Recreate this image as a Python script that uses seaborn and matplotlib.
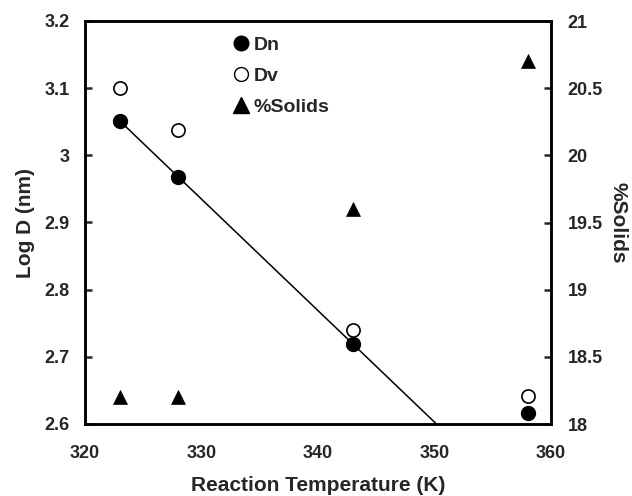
import numpy as np
import pandas as pd
import matplotlib
matplotlib.use("Agg")
import matplotlib.pyplot as plt
import seaborn as sns
from matplotlib.lines import Line2D

temperature = [323, 328, 343, 358]
log_dn = [3.051, 2.968, 2.719, 2.616]
log_dv = [3.100, 3.037, 2.740, 2.641]
solids = [18.2, 18.2, 19.6, 20.7]
fit_points = 3  # trend line fitted through first three Dn points

sns.set_style("white")
plt.rcParams['font.family'] = ['Liberation Sans', 'DejaVu Sans']
plt.rcParams['font.weight'] = 'bold'

df = pd.DataFrame({"T": temperature, "Dn": log_dn, "Dv": log_dv, "Solids": solids})

fig = plt.figure(figsize=(6.32, 4.96), dpi=100)
ax = fig.add_axes([85/632, 1-424/496, (551-85)/632, (424-21)/496])
ax2 = ax.twinx()

sns.scatterplot(data=df, x="T", y="Dn", ax=ax, color="black", edgecolor="black",
                s=100, marker="o", linewidth=1, zorder=3, legend=False)
sns.scatterplot(data=df, x="T", y="Dv", ax=ax, facecolor="white", edgecolor="black",
                s=90, marker="o", linewidth=1.2, zorder=3, legend=False)
sns.scatterplot(data=df, x="T", y="Solids", ax=ax2, color="black", edgecolor="black",
                s=100, marker="^", linewidth=0.5, zorder=3, legend=False)

slope, intercept = np.polyfit(temperature[:fit_points], log_dn[:fit_points], 1)
xs = np.array([temperature[0], temperature[-1]])
ax.plot(xs, slope*xs + intercept, color="black", lw=1.1, zorder=2)

ax.set_xlim(320, 360)
ax.set_ylim(2.6, 3.2)
ax2.set_ylim(18, 21)
ax.set_xticks([320, 330, 340, 350, 360])
ax.set_yticks([2.6, 2.7, 2.8, 2.9, 3.0, 3.1, 3.2])
ax.set_yticklabels(["2.6", "2.7", "2.8", "2.9", "3", "3.1", "3.2"])
ax2.set_yticks([18, 18.5, 19, 19.5, 20, 20.5, 21])
ax2.set_yticklabels(["18", "18.5", "19", "19.5", "20", "20.5", "21"])

for a in (ax, ax2):
    for sp in a.spines.values():
        sp.set_linewidth(1.8)
        sp.set_color("black")
ax.tick_params(axis="both", direction="in", length=5, width=1.8, labelsize=13, pad=11)
ax.tick_params(axis="x", pad=15)
ax2.tick_params(axis="y", direction="in", length=5, width=1.8, labelsize=13, pad=12)

ax.set_xlabel("Reaction Temperature (K)", fontsize=15, fontweight="bold", labelpad=10)
ax.set_ylabel("Log D (nm)", fontsize=15, fontweight="bold", labelpad=7)
ax2.set_ylabel("%Solids", fontsize=15, fontweight="bold", rotation=270, labelpad=18)

handles = [
    Line2D([], [], marker="o", ls="", color="black", markersize=10.5),
    Line2D([], [], marker="o", ls="", markerfacecolor="white", markeredgecolor="black", markersize=10),
    Line2D([], [], marker="^", ls="", color="black", markersize=11),
]
leg = ax2.legend(handles, ["Dn", "Dv", "%Solids"], loc="upper left", bbox_to_anchor=(0.272, 1.005),
                 frameon=False, fontsize=14, handletextpad=0.05, labelspacing=0.68, handlelength=1.2)
for t in leg.get_texts():
    t.set_fontweight("bold")

fig.savefig("out.png", dpi=100)
